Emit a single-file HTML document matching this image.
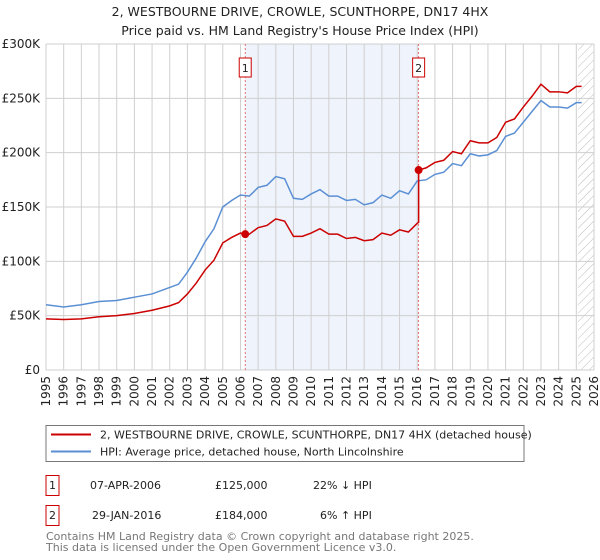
<!DOCTYPE html>
<html><head><meta charset="utf-8"><style>
body{margin:0;background:#fff;font-family:"DejaVu Sans","Liberation Sans",sans-serif;}
svg{display:block}
</style></head><body>
<svg id="c" width="600" height="560" xmlns="http://www.w3.org/2000/svg">
<defs><pattern id="hatch" width="6" height="6" patternUnits="userSpaceOnUse" patternTransform="rotate(45)"><line x1="0" y1="0" x2="0" y2="6" stroke="#bbb" stroke-width="1"/></pattern></defs>
<text x="300" y="16" text-anchor="middle" font-size="12.5" fill="#222">2, WESTBOURNE DRIVE, CROWLE, SCUNTHORPE, DN17 4HX</text>
<text x="300" y="35" text-anchor="middle" font-size="12.5" fill="#222">Price paid vs. HM Land Registry's House Price Index (HPI)</text>
<g id="plot"></g>
<g>
<rect x="46" y="425.5" width="478" height="36" fill="#fff" stroke="#777"/>
<line x1="51" y1="434.5" x2="91" y2="434.5" stroke="#cc0000" stroke-width="2"/>
<text x="100" y="438.5" font-size="11" fill="#222">2, WESTBOURNE DRIVE, CROWLE, SCUNTHORPE, DN17 4HX (detached house)</text>
<line x1="51" y1="451.5" x2="91" y2="451.5" stroke="#5b8fd4" stroke-width="2"/>
<text x="100" y="455.5" font-size="11" fill="#222">HPI: Average price, detached house, North Lincolnshire</text>
</g>
<g font-size="11" fill="#222">
<rect x="46" y="475.5" width="13" height="20" fill="#fff" stroke="#cc0000"/>
<text x="52.5" y="489" text-anchor="middle">1</text>
<text x="90" y="489">07-APR-2006</text>
<text x="215" y="489">£125,000</text>
<text x="313" y="489">22% ↓ HPI</text>
<rect x="46" y="505.5" width="13" height="20" fill="#fff" stroke="#cc0000"/>
<text x="52.5" y="519" text-anchor="middle">2</text>
<text x="92" y="519">29-JAN-2016</text>
<text x="215" y="519">£184,000</text>
<text x="320" y="519">6% ↑ HPI</text>
</g>
<text x="46" y="540" font-size="11" fill="#777">Contains HM Land Registry data © Crown copyright and database right 2025.</text>
<text x="46" y="551" font-size="11" fill="#777">This data is licensed under the Open Government Licence v3.0.</text>
</svg>
<script>
const yTicks=[0,50000,100000,150000,200000,250000,300000];
const yTickLabels=["£0","£50K","£100K","£150K","£200K","£250K","£300K"];
const years=[1995,1996,1997,1998,1999,2000,2001,2002,2003,2004,2005,2006,2007,2008,2009,2010,2011,2012,2013,2014,2015,2016,2017,2018,2019,2020,2021,2022,2023,2024,2025,2026];
const hpiDates=[1995,1996,1997,1998,1999,2000,2001,2002,2002.5,2003,2003.5,2004,2004.5,2005,2005.5,2006,2006.5,2007,2007.5,2008,2008.5,2009,2009.5,2010,2010.5,2011,2011.5,2012,2012.5,2013,2013.5,2014,2014.5,2015,2015.5,2016,2016.5,2017,2017.5,2018,2018.5,2019,2019.5,2020,2020.5,2021,2021.5,2022,2022.5,2023,2023.5,2024,2024.5,2025,2025.3];
const hpiValues=[60,58,60,63,64,67,70,76,79,90,103,118,130,150,156,161,160,168,170,178,176,158,157,162,166,160,160,156,157,152,154,161,158,165,162,174,175,180,182,190,188,199,197,198,202,215,218,228,238,248,242,242,241,246,246];
const priceDates=[1995,1996,1997,1998,1999,2000,2001,2002,2002.5,2003,2003.5,2004,2004.5,2005,2005.5,2006,2006.27,2006.5,2007,2007.5,2008,2008.5,2009,2009.5,2010,2010.5,2011,2011.5,2012,2012.5,2013,2013.5,2014,2014.5,2015,2015.5,2016,2016.08,2016.081,2016.5,2017,2017.5,2018,2018.5,2019,2019.5,2020,2020.5,2021,2021.5,2022,2022.5,2023,2023.5,2024,2024.5,2025,2025.3];
const priceValues=[47,46.5,47,49,50,52,55,59,62,70,80,92,101,117,122,126,125,125,131,133,139,137,123,123,126,130,125,125,121,122,119,120,126,124,129,127,135,136,184,186,191,193,201,199,211,209,209,214,228,231,242,252,263,256,256,255,261,261];
const saleDates=[2006.27,2016.08];
const salePrices=[125,184];
const saleLabels=["1","2"];

const L=46,R=594,T=44,B=370,X0=1995,X1=2026,YMAX=300000;
const xs=d=>L+(d-X0)/(X1-X0)*(R-L);
const ys=v=>B-v/YMAX*(B-T);
const NS="http://www.w3.org/2000/svg";
const g=document.getElementById('plot');
function mk(t,a){const e=document.createElementNS(NS,t);for(const k in a)e.setAttribute(k,a[k]);g.appendChild(e);return e;}
const bg=mk('rect',{x:L,y:T,width:R-L,height:B-T,fill:'#fff'});


const sh=mk('rect',{x:xs(saleDates[0]),y:T,width:xs(saleDates[1])-xs(saleDates[0]),height:B-T,fill:'#eef3fc'});


const hx=mk('rect',{x:xs(2025.1),y:T,width:R-xs(2025.1),height:B-T,fill:'url(#hatch)'});


years.forEach(y=>{
 const l=mk('line',{x1:xs(y),x2:xs(y),y1:T,y2:B,stroke:'#cfcfcf','stroke-width':1});
 
 
 const t=mk('text',{x:0,y:0,'font-size':12,fill:'#222','text-anchor':'end',transform:`translate(${xs(y)+4},${B+6}) rotate(-90)`});
 t.textContent=y;
 
 
});
yTicks.forEach((v,i)=>{
 const l=mk('line',{x1:L,x2:R,y1:ys(v),y2:ys(v),stroke:'#cfcfcf','stroke-width':1});
 
 
 const t=mk('text',{x:L-6,y:ys(v)+4,'font-size':12,fill:'#222','text-anchor':'end'});
 t.textContent=yTickLabels[i];
 
 
});
saleDates.forEach((d,i)=>{
 const l=mk('line',{x1:xs(d),x2:xs(d),y1:T,y2:B,stroke:'#e05555','stroke-width':0.8,'stroke-dasharray':'2,2'});
 
 
 const r=mk('rect',{x:xs(d)-6,y:58,width:12,height:19,fill:'#fff',stroke:'#cc0000'});
 
 
 const t=mk('text',{x:xs(d),y:72,'font-size':11,fill:'#222','text-anchor':'middle'});
 t.textContent=saleLabels[i];
 
 
});
const hp=mk('polyline',{points:hpiDates.map((d,i)=>xs(d)+','+ys(hpiValues[i]*1000)).join(' '),fill:'none',stroke:'#5b8fd4','stroke-width':1.5});


const pp=mk('polyline',{points:priceDates.map((d,i)=>xs(d)+','+ys(priceValues[i]*1000)).join(' '),fill:'none',stroke:'#cc0000','stroke-width':1.5});


saleDates.forEach((d,i)=>{
 const c=mk('circle',{cx:xs(d),cy:ys(salePrices[i]*1000),r:4,fill:'#cc0000'});
 
 
});
</script>
</body></html>
